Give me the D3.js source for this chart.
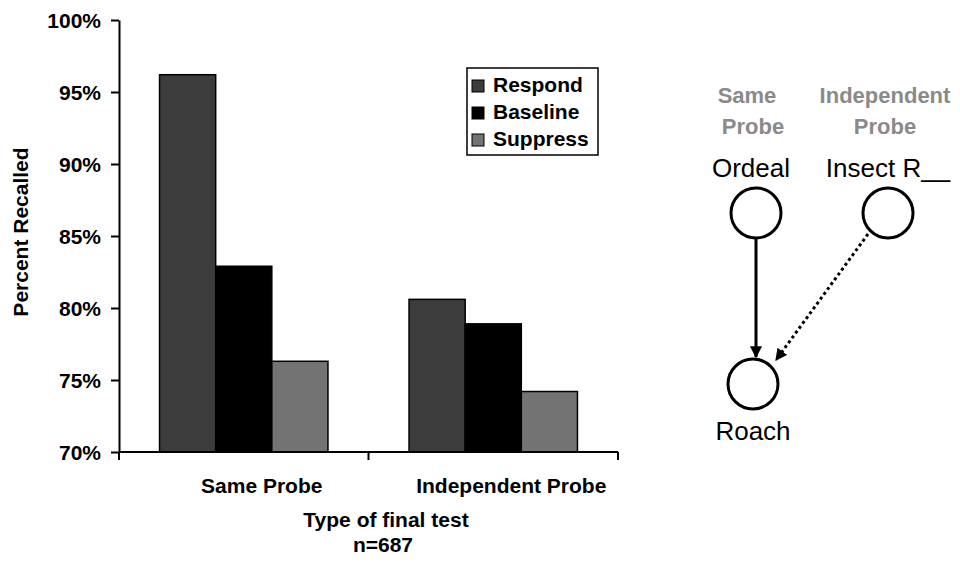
<!DOCTYPE html>
<html>
<head>
<meta charset="utf-8">
<script src="https://cdn.jsdelivr.net/npm/d3@7"></script>
<style>
  body { margin: 0; background: #fff; }
  text { font-family: Arial, "Liberation Sans", sans-serif; }
</style>
</head>
<body>
<div id="chart"></div>
<script>
// data
var categories = ["Same Probe", "Independent Probe"]
var series = ["Respond", "Baseline", "Suppress"]
var respondVals = [0.962, 0.806]
var baselineVals = [0.829, 0.789]
var suppressVals = [0.763, 0.742]
var yTicks = [0.70, 0.75, 0.80, 0.85, 0.90, 0.95, 1.00]
var colors = ["#3c3c3c", "#000000", "#737373"]

// diagram on the right
var diagramNodes = [
  {label: "Ordeal", head: ["Same", "Probe"], x: 756, y: 213},
  {label: "Insect R__", head: ["Independent", "Probe"], x: 888, y: 213},
  {label: "Roach", head: null, x: 753, y: 384}
]

var width = 960, height = 564
var svg = d3.select("#chart").append("svg")
    .attr("width", width)
    .attr("height", height)

var mLeft = 119, mRight = 618, mTop = 20, mBottom = 452

var y = d3.scaleLinear().domain([0.70, 1.00]).range([mBottom, mTop])
var x0 = d3.scaleBand().domain(categories).range([mLeft, mRight])
    .paddingInner(0.325).paddingOuter(0.1625)
var x1 = d3.scaleBand().domain(series).range([0, x0.bandwidth()])

var rows = categories.map(function(c, i){
  return {cat: c, vals: [respondVals[i], baselineVals[i], suppressVals[i]]}
})

// bars
var groups = svg.selectAll(".grp").data(rows).enter().append("g")
    .attr("class", "grp")
    .attr("transform", function(d){ return "translate(" + x0(d.cat) + ",0)" })
groups.selectAll("rect").data(function(d){
    return d.vals.map(function(v, j){ return {s: series[j], v: v, j: j} })
  }).enter().append("rect")
    .attr("x", function(d){ return x1(d.s) })
    .attr("width", x1.bandwidth())
    .attr("y", function(d){ return y(d.v) })
    .attr("height", function(d){ return mBottom - y(d.v) })
    .attr("fill", function(d){ return colors[d.j] })
    .attr("stroke", "#000")
    .attr("stroke-width", 1.5)

// y axis
var yAxis = svg.append("g").attr("transform", "translate(" + mLeft + ",0)")
    .call(d3.axisLeft(y).tickValues(yTicks).tickSize(8).tickSizeOuter(0)
      .tickFormat(d3.format(".0%")))
yAxis.select(".domain").attr("stroke-width", 2)
yAxis.selectAll(".tick line").attr("stroke-width", 2)
yAxis.selectAll(".tick text")
    .attr("x", -18)
    .attr("dy", "0.36em")
    .style("font-size", "21px")
    .style("font-weight", "bold")
    .style("font-family", "Arial, 'Liberation Sans', sans-serif")
    .attr("fill", "#000")

// x axis line with ticks at group boundaries
svg.append("line").attr("x1", mLeft).attr("x2", mRight)
    .attr("y1", mBottom).attr("y2", mBottom)
    .attr("stroke", "#000").attr("stroke-width", 2)
var bounds = [mLeft, (x0(categories[0]) + x0.bandwidth() + x0(categories[1])) / 2, mRight]
svg.selectAll(".xtick").data(bounds).enter().append("line")
    .attr("x1", function(d){ return d }).attr("x2", function(d){ return d })
    .attr("y1", mBottom).attr("y2", mBottom + 8)
    .attr("stroke", "#000").attr("stroke-width", 2)

svg.selectAll(".catlab").data(categories).enter().append("text")
    .attr("x", function(d){ return x0(d) + x0.bandwidth() / 2 + 18 })
    .attr("y", 493)
    .attr("text-anchor", "middle")
    .style("font-size", "21px").style("font-weight", "bold")
    .text(function(d){ return d })

svg.append("text").attr("x", 386).attr("y", 527)
    .attr("text-anchor", "middle")
    .style("font-size", "21px").style("font-weight", "bold")
    .text("Type of final test")
svg.append("text").attr("x", 383).attr("y", 552)
    .attr("text-anchor", "middle")
    .style("font-size", "21px").style("font-weight", "bold")
    .text("n=687")

svg.append("text")
    .attr("transform", "translate(28,232) rotate(-90)")
    .attr("text-anchor", "middle")
    .style("font-size", "21px").style("font-weight", "bold")
    .text("Percent Recalled")

// legend
var legend = svg.append("g").attr("transform", "translate(467,68)")
legend.append("rect").attr("width", 131).attr("height", 87)
    .attr("fill", "#fff").attr("stroke", "#000").attr("stroke-width", 1.5)
var items = legend.selectAll(".li").data(series).enter().append("g")
    .attr("transform", function(d, i){ return "translate(5," + (12 + i * 27) + ")" })
items.append("rect").attr("width", 12).attr("height", 12)
    .attr("fill", function(d, i){ return colors[i] })
    .attr("stroke", "#000").attr("stroke-width", 1)
items.append("text").attr("x", 21).attr("y", 12)
    .style("font-size", "21px").style("font-weight", "bold")
    .text(function(d){ return d })

// diagram
var defs = svg.append("defs")
defs.append("marker").attr("id", "arrow")
    .attr("viewBox", "0 0 10 10").attr("refX", 9).attr("refY", 5)
    .attr("markerWidth", 4).attr("markerHeight", 4)
    .attr("orient", "auto")
  .append("path").attr("d", "M0,0 L10,5 L0,10 z").attr("fill", "#000")

var nodeR = 25
var ordeal = diagramNodes[0], insect = diagramNodes[1], roach = diagramNodes[2]
svg.append("line")
    .attr("x1", ordeal.x).attr("y1", ordeal.y + nodeR + 1)
    .attr("x2", ordeal.x).attr("y2", roach.y - nodeR - 2)
    .attr("stroke", "#000").attr("stroke-width", 3)
    .attr("marker-end", "url(#arrow)")
svg.append("line")
    .attr("x1", 868).attr("y1", 234)
    .attr("x2", 776).attr("y2", 360)
    .attr("stroke", "#000").attr("stroke-width", 3)
    .attr("stroke-dasharray", "3,3")
    .attr("marker-end", "url(#arrow)")

svg.selectAll(".node").data(diagramNodes).enter().append("circle")
    .attr("cx", function(d){ return d.x }).attr("cy", function(d){ return d.y })
    .attr("r", nodeR).attr("fill", "#fff")
    .attr("stroke", "#000").attr("stroke-width", 3)

diagramNodes.forEach(function(d){
  var isRoach = d.head === null
  svg.append("text")
      .attr("x", d.x - (d.label == "Ordeal" ? 5 : 0))
      .attr("y", isRoach ? 440 : 177)
      .attr("text-anchor", "middle")
      .style("font-size", "26px")
      .text(d.label)
  if (d.head) {
    d.head.forEach(function(h, k){
      svg.append("text")
          .attr("x", d.x - (k == 0 && d.label == "Ordeal" ? 9 : 3))
          .attr("y", 103 + k * 31)
          .attr("text-anchor", "middle")
          .attr("fill", "#8a8a8a")
          .style("font-size", "22px").style("font-weight", "bold")
          .text(h)
    })
  }
})
</script>
</body>
</html>
